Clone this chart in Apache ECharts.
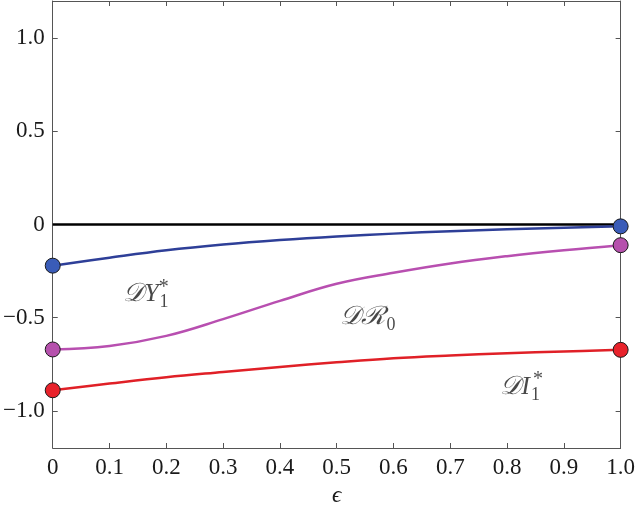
<!DOCTYPE html>
<html><head><meta charset="utf-8">
<script src="https://cdn.jsdelivr.net/npm/echarts@6/dist/echarts.min.js"></script>
<style>html,body{margin:0;padding:0;background:#fff}#c{width:638px;height:512px}</style>
</head><body><div id="c"></div>
<script>
const eps = [0, 0.1, 0.2, 0.3, 0.4, 0.5, 0.6, 0.7, 0.8, 0.9, 1.0];
const dY1 = [-0.221, -0.178, -0.138, -0.107, -0.083, -0.064, -0.049, -0.036, -0.026, -0.017, -0.010];
const dR0 = [-0.671, -0.652, -0.598, -0.508, -0.410, -0.318, -0.259, -0.209, -0.170, -0.138, -0.111];
const dI1 = [-0.890, -0.854, -0.820, -0.792, -0.765, -0.740, -0.718, -0.703, -0.691, -0.682, -0.673];
const zeroLine = [[0, 0], [1, 0]];
const yTicks = [-1.0, -0.5, 0, 0.5, 1.0];
// annotation anchors [x, y]
const labY = [0.164, -0.376];
const labR = [0.555, -0.50];
const labI = [0.823, -0.872];

const serif = 'Liberation Serif';
const fmtY = v => v === 0 ? '0' : (v < 0 ? '\u2212' + Math.abs(v).toFixed(1) : v.toFixed(1));
const fmtX = v => v === 0 ? '0' : v.toFixed(1);

function curve(vals, lineColor, markColor) {
  return {
    type: 'line', smooth: 0.4, symbol: 'none',
    data: eps.map((x, i) => [x, vals[i]]),
    lineStyle: {color: lineColor, width: 2.5},
    markPoint: {
      symbol: 'circle', symbolSize: 15,
      itemStyle: {color: markColor, borderColor: '#1a1a1a', borderWidth: 1},
      label: {show: false},
      data: [{coord: [eps[0], vals[0]]}, {coord: [eps[eps.length - 1], vals[vals.length - 1]]}]
    },
    z: 3
  };
}

function ann(pos, main, sub, sup) {
  const data = [{
    value: pos,
    label: {
      show: true, position: 'inside',
      formatter: '{m|' + main + '}{s|' + sub + '}',
      rich: {
        m: {fontFamily: serif, fontStyle: 'italic', fontSize: 26, color: '#1a1a1a'},
        s: {fontFamily: serif, fontSize: 18, color: '#1a1a1a', padding: [16, 0, 0, 1]}
      }
    }
  }];
  if (sup) {
    data.push({
      value: pos,
      label: {
        show: true, position: 'inside', offset: [18, -7],
        formatter: sup, fontFamily: serif, fontSize: 20, color: '#1a1a1a'
      }
    });
  }
  return {type: 'scatter', symbolSize: 0, silent: true, data: data, z: 10};
}

const axisLineStyle = {show: true, onZero: false, lineStyle: {color: '#555', width: 1}};
const chart = echarts.init(document.getElementById('c'));
chart.setOption({
  animation: false,
  grid: {left: 51, right: 15, top: 1, bottom: 60},
  xAxis: [{
    type: 'value', min: 0, max: 1, interval: 0.1,
    axisLine: axisLineStyle,
    axisTick: {show: true, inside: true, length: 5, lineStyle: {color: '#555'}},
    axisLabel: {formatter: fmtX, fontFamily: serif, fontSize: 23, color: '#1a1a1a', margin: 8},
    splitLine: {show: false},
    name: '\u03F5', nameLocation: 'middle', nameGap: 36,
    nameTextStyle: {fontFamily: serif, fontStyle: 'italic', fontSize: 23, color: '#1a1a1a'}
  }, {
    type: 'value', position: 'top', min: 0, max: 1, interval: 0.1,
    axisLine: axisLineStyle,
    axisTick: {show: true, inside: true, length: 5, lineStyle: {color: '#555'}},
    axisLabel: {show: false}, splitLine: {show: false}
  }],
  yAxis: [{
    type: 'value', min: -1.2, max: 1.2,
    axisLine: axisLineStyle,
    axisTick: {show: true, inside: true, length: 5, customValues: yTicks, lineStyle: {color: '#555'}},
    axisLabel: {customValues: yTicks, formatter: fmtY, fontFamily: serif, fontSize: 23, color: '#1a1a1a', margin: 8},
    splitLine: {show: false}
  }, {
    type: 'value', position: 'right', min: -1.2, max: 1.2,
    axisLine: axisLineStyle,
    axisTick: {show: true, inside: true, length: 5, customValues: yTicks, lineStyle: {color: '#555'}},
    axisLabel: {show: false}, splitLine: {show: false}
  }],
  series: [
    {type: 'line', symbol: 'none', data: zeroLine, lineStyle: {color: '#000', width: 2.5}, z: 2},
    curve(dY1, '#2e3f98', '#3a5cb8'),
    curve(dR0, '#b84fb0', '#b651ad'),
    curve(dI1, '#e02027', '#e8222b'),
    ann(labY, '\uD835\uDC9FY', '1', '*'),
    ann(labR, '\uD835\uDC9F\u211B', '0', ''),
    ann(labI, '\uD835\uDC9FI', '1', '*')
  ]
});
</script></body></html>
